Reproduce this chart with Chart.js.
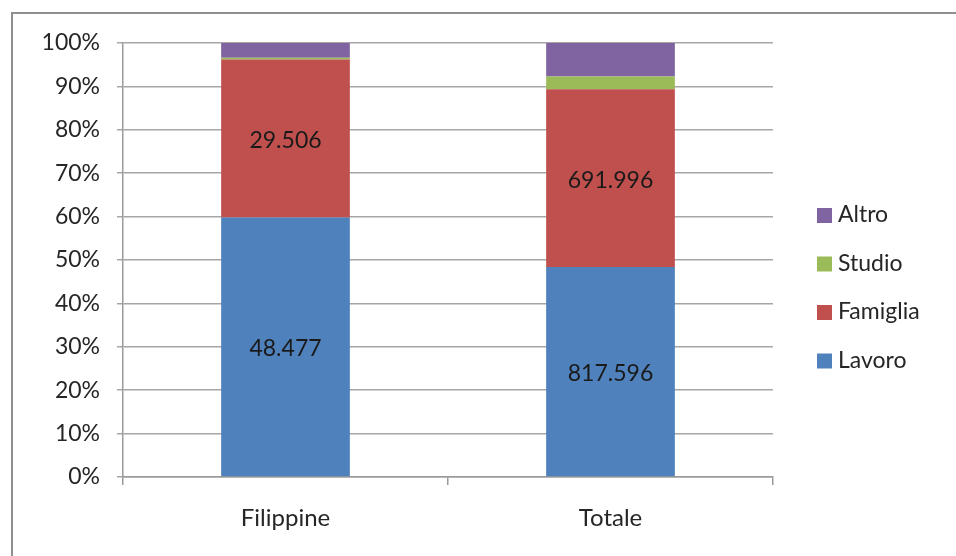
<!DOCTYPE html>
<html>
<head>
<meta charset="utf-8">
<script src="https://cdn.jsdelivr.net/npm/chart.js@4/dist/chart.umd.min.js"></script>
<style>
  body { margin: 0; background: #fff; }
  .wrap { position: relative; width: 956px; height: 556px; overflow: hidden; }
  .frame { position: absolute; left: 11px; top: 12px; width: 1000px; height: 600px;
           border-top: 2px solid #8f8f8f; border-left: 2px solid #8f8f8f; }
  canvas { position: absolute; left: 0; top: 0; }
</style>
</head>
<body>
<div class="wrap">
  <div class="frame"></div>
  <canvas id="chart" width="956" height="556"></canvas>
</div>
<script>
// === Data ===
const categories = ['Filippine', 'Totale'];
const lavoro   = [48477, 817596];
const famiglia = [29506, 691996];
const studio   = [330, 50000];
const altro    = [2750, 130000];
const yTicks = [0, 10, 20, 30, 40, 50, 60, 70, 80, 90, 100];

const totals = categories.map((c, i) => lavoro[i] + famiglia[i] + studio[i] + altro[i]);
const pct = arr => arr.map((v, i) => v / totals[i] * 100);

const FONT = 'Lato, "Open Sans", sans-serif';

function fmt(v) {
  return String(v).replace(/\B(?=(\d{3})+(?!\d))/g, '.');
}

// value labels inside Lavoro and Famiglia segments
const valueLabels = {
  id: 'valueLabels',
  afterDatasetsDraw(chart) {
    const ctx = chart.ctx;
    ctx.save();
    ctx.font = '23px ' + FONT;
    ctx.fillStyle = '#1a1a1a';
    ctx.textAlign = 'center';
    ctx.textBaseline = 'middle';
    chart.data.datasets.forEach((ds, di) => {
      if (!ds.showValue) return;
      chart.getDatasetMeta(di).data.forEach((bar, i) => {
        const p = bar.getProps(['x', 'y', 'base'], true);
        ctx.fillText(fmt(ds.raw[i]), p.x, (p.y + p.base) / 2 + 2);
      });
    });
    ctx.restore();
  }
};

// legend on the right, reversed order like the original
const sideLegend = {
  id: 'sideLegend',
  afterDraw(chart) {
    const ctx = chart.ctx;
    const items = chart.data.datasets.slice().reverse();
    ctx.save();
    ctx.font = '23px ' + FONT;
    ctx.textBaseline = 'middle';
    items.forEach((ds, k) => {
      const y = 215 + k * 48.5;
      ctx.fillStyle = ds.backgroundColor;
      ctx.fillRect(817, y - 7, 15, 15);
      ctx.fillStyle = '#262626';
      ctx.fillText(ds.label, 838, y);
    });
    ctx.restore();
  }
};

const ctx = document.getElementById('chart').getContext('2d');
const chart = new Chart(ctx, {
  type: 'bar',
  data: {
    labels: categories,
    datasets: [
      { label: 'Lavoro',   data: pct(lavoro),   raw: lavoro,   showValue: true,  backgroundColor: '#4F81BD' },
      { label: 'Famiglia', data: pct(famiglia), raw: famiglia, showValue: true,  backgroundColor: '#C0504D' },
      { label: 'Studio',   data: pct(studio),   raw: studio,   showValue: false, backgroundColor: '#9BBB59' },
      { label: 'Altro',    data: pct(altro),    raw: altro,    showValue: false, backgroundColor: '#8064A2' }
    ]
  },
  options: {
    responsive: false,
    animation: false,
    layout: { padding: { top: 43, right: 183, bottom: 0, left: 0 } },
    datasets: { bar: { barPercentage: 0.4, categoryPercentage: 0.99 } },
    scales: {
      x: {
        stacked: true,
        grid: { drawOnChartArea: false, tickLength: 8, color: '#9a9a9a', lineWidth: 1.5 },
        border: { color: '#9a9a9a', width: 1.5 },
        ticks: { color: '#262626', font: { family: FONT, size: 24 }, padding: 19 },
        afterFit: s => { s.height = 79; }
      },
      y: {
        stacked: true,
        min: 0, max: 100,
        afterBuildTicks: s => { s.ticks = yTicks.map(v => ({ value: v })); },
        grid: { tickLength: 6, color: '#a6a6a6', lineWidth: 1.5 },
        border: { color: '#9a9a9a', width: 1.5 },
        ticks: { color: '#262626', font: { family: FONT, size: 23 }, padding: 17,
                 callback: v => v + '%' },
        afterFit: s => { s.width = 123; }
      }
    },
    plugins: {
      legend: { display: false },
      tooltip: { enabled: false }
    }
  },
  plugins: [valueLabels, sideLegend]
});
</script>
</body>
</html>
